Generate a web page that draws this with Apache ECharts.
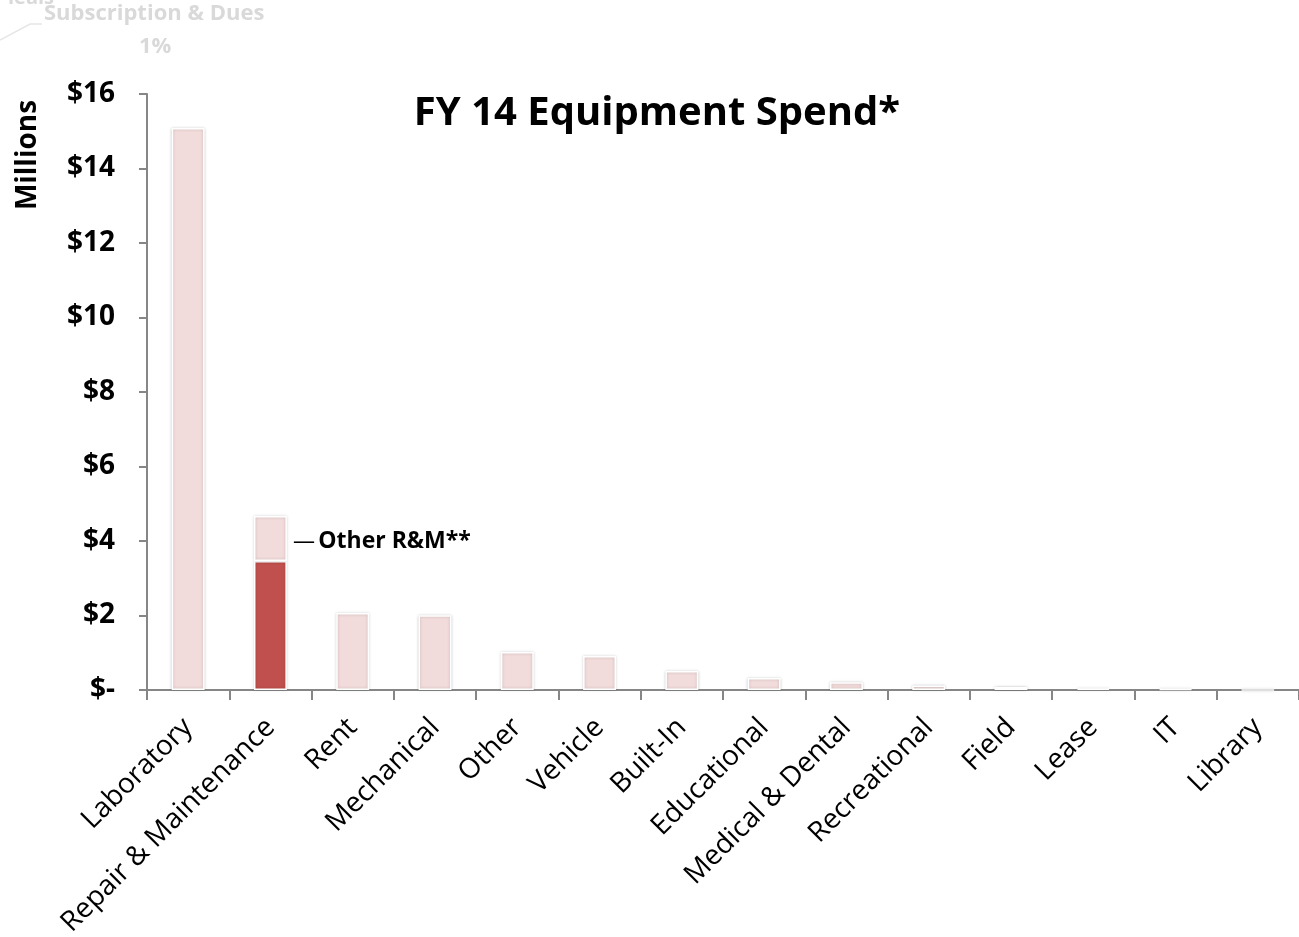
<!DOCTYPE html>
<html><head><meta charset="utf-8">
<script src="https://cdn.jsdelivr.net/npm/echarts@6/dist/echarts.min.js"></script>
<style>html,body{margin:0;padding:0;background:#fff}#c{width:1299px;height:937px}</style>
</head><body><div id="c"></div>
<script>
const categories = ['Laboratory','Repair & Maintenance','Rent','Mechanical','Other','Vehicle','Built-In','Educational','Medical & Dental','Recreational','Field','Lease','IT','Library'];
const mainValues = [15.09, 3.46, 2.07, 2.01, 1.02, 0.91, 0.51, 0.32, 0.21, 0.12, 0.08, 0.035, 0.025, 0.005];
const otherRMValues = [null, 1.21, null, null, null, null, null, null, null, null, null, null, null, null];
const highlightCategory = 'Repair & Maintenance';

const LIGHT = '#F2DCDB', DARK = '#C0504D';
const FONT = '"Open Sans", "DejaVu Sans", sans-serif';
const chart = echarts.init(document.getElementById('c'), null, {renderer:'canvas'});
chart.setOption({
  animation:false,
  title:{text:'FY 14 Equipment Spend*', left:652, top:89, textAlign:'center',
    textStyle:{fontFamily:FONT, fontWeight:'bold', fontSize:40, color:'#000'}},
  grid:{left:147, right:0, top:94, bottom:247, containLabel:false, outerBoundsMode:'none'},
  xAxis:{type:'category', data:categories, boundaryGap:true,
    axisLine:{lineStyle:{color:'#868686', width:2}},
    axisTick:{show:true, length:10, lineStyle:{color:'#868686', width:2}},
    axisLabel:{rotate:45, interval:0, margin:33, fontFamily:FONT, fontSize:28, color:'#000'}},
  yAxis:{type:'value', min:0, max:16, interval:2,
    axisLine:{show:true, lineStyle:{color:'#868686', width:2}},
    axisTick:{show:true, length:8, lineStyle:{color:'#868686', width:2}},
    splitLine:{show:false},
    axisLabel:{margin:32, fontFamily:FONT, fontWeight:'bold', fontSize:28, color:'#000',
      formatter:v=> v===0 ? '$-' : '$'+v}},
  series:[
    {type:'bar', stack:'s', barWidth:'40%',
     data: mainValues.map((v,i)=>({value:v, itemStyle:{color: categories[i]===highlightCategory?DARK:LIGHT}})),
     itemStyle:{borderColor:'#fff', borderWidth:1.5, shadowBlur:3, shadowColor:'rgba(0,0,0,0.2)'}},
    {type:'bar', stack:'s', barWidth:'40%', data: otherRMValues,
     itemStyle:{color:LIGHT, borderColor:'#fff', borderWidth:1.5, shadowBlur:3, shadowColor:'rgba(0,0,0,0.2)'},
     label:{show:true, position:'right', distance:6, offset:[0,3], formatter:'{d|—} {t|Other R&M**}',
       rich:{d:{fontFamily:FONT, fontSize:22, color:'#000'}, t:{fontFamily:FONT, fontWeight:'bold', fontSize:23, color:'#000'}}}}
  ],
  graphic:[
    {type:'text', x:28, y:155, rotation:Math.PI/2,
     style:{text:'Millions', font:'bold 28px '+FONT, fill:'#000', align:'center', verticalAlign:'middle'}},
    {type:'text', left:44, top:3, style:{text:'Subscription & Dues', font:'bold 22px '+FONT, fill:'#d9d9d9'}},
    {type:'text', left:139, top:36, style:{text:'1%', font:'bold 22px '+FONT, fill:'#d9d9d9'}},
    {type:'text', left:8, top:-12, style:{text:'leals', font:'bold 20px '+FONT, fill:'#d9d9d9'}},
    {type:'polyline', shape:{points:[[0,40],[30,24],[42,24]]}, style:{stroke:'#e6e6e6', lineWidth:1.5, fill:null}}
  ]
});
</script></body></html>
